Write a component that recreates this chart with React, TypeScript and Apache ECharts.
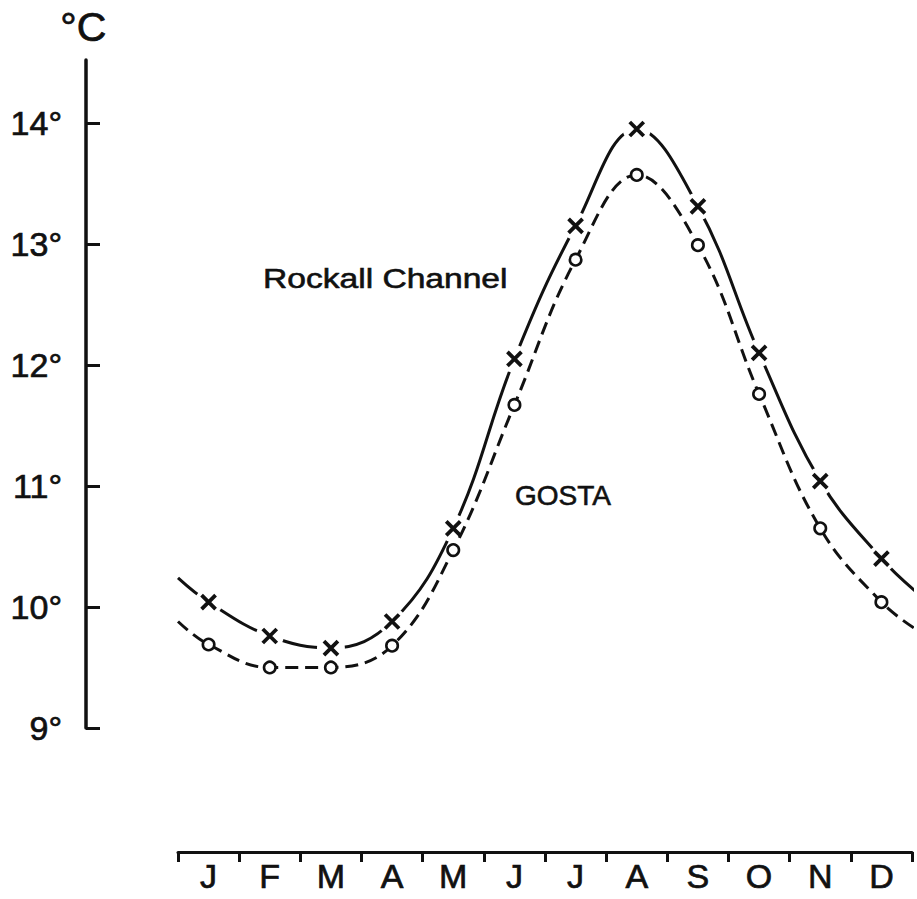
import React, { useEffect, useRef } from 'react';
import * as echarts from 'echarts';

const monthNames = ['Jan', 'Feb', 'Mar', 'Apr', 'May', 'Jun', 'Jul', 'Aug', 'Sep', 'Oct', 'Nov', 'Dec'];
const monthLabels = ['J', 'F', 'M', 'A', 'M', 'J', 'J', 'A', 'S', 'O', 'N', 'D'];
const rockall = [10.04, 9.76, 9.66, 9.88, 10.65, 12.05, 13.15, 13.95, 13.31, 12.1, 11.04, 10.4];
const gosta = [9.69, 9.5, 9.5, 9.68, 10.47, 11.67, 12.87, 13.57, 12.99, 11.76, 10.65, 10.04];
// curve values at the left (start of Jan) and right (end of Dec) edges
const rockallEnds = [10.24, 10.12];
const gostaEnds = [9.88, 9.81];
const yTicks = [9, 10, 11, 12, 13, 14];
const curveStart = 0;
const curveEnd = 12.08;

const FONT = '"Liberation Sans", Arial, Helvetica, sans-serif';
const INK = '#111';
const bolden = { textBorderColor: INK, textBorderWidth: 0.7 };

export default function App() {
  const ref = useRef<HTMLDivElement>(null);
  useEffect(() => {
    if (!ref.current) return;
    const chart = echarts.init(ref.current, undefined, { renderer: 'svg' });
    const pts = (vals: number[]) => vals.map((v, i) => [i + 0.5, v]);
    const curve = (vals: number[], ends: number[]) => [
      [curveStart, ends[0]],
      ...pts(vals),
      [curveEnd, ends[1]],
    ];
    chart.setOption({
      animation: false,
      backgroundColor: '#fff',
      grid: { left: 178, right: 5, top: 60, bottom: 171 },
      xAxis: [
        {
          type: 'category',
          data: monthNames,
          position: 'bottom',
          offset: 124,
          boundaryGap: true,
          axisLine: { show: true, onZero: false, lineStyle: { color: INK, width: 3 } },
          axisTick: { show: true, length: 10, alignWithLabel: false, interval: 0, lineStyle: { color: INK, width: 3 } },
          axisLabel: {
            interval: 0,
            margin: 7,
            color: INK,
            fontSize: 34,
            fontFamily: FONT,
            ...bolden,
            formatter: (_v: string, i: number) => monthLabels[i],
          },
          splitLine: { show: false },
        },
        { type: 'value', min: 0, max: 12, show: false },
      ],
      yAxis: {
        type: 'value',
        min: 9,
        max: 14.52,
        position: 'left',
        offset: 92,
        axisLine: { show: true, onZero: false, lineStyle: { color: INK, width: 3.5 } },
        axisTick: { show: true, inside: true, length: 14, customValues: yTicks, lineStyle: { color: INK, width: 3 } },
        axisLabel: {
          customValues: yTicks,
          margin: 24,
          color: INK,
          fontSize: 34,
          fontFamily: FONT,
          ...bolden,
          formatter: (v: number) => (Number.isInteger(v) ? v + '°' : ''),
        },
        splitLine: { show: false },
      },
      graphic: [
        { type: 'text', left: 60, top: 6, style: { text: '°C', font: `41px ${FONT}`, fill: INK, stroke: INK, lineWidth: 0.7 } },
        {
          type: 'text', x: 263, y: 278, scaleX: 1.2,
          style: { text: 'Rockall Channel', font: `28px ${FONT}`, fill: INK, stroke: INK, lineWidth: 0.6, verticalAlign: 'middle' },
        },
        {
          type: 'text', x: 515, y: 495,
          style: { text: 'GOSTA', font: `28px ${FONT}`, fill: INK, stroke: INK, lineWidth: 0.6, verticalAlign: 'middle' },
        },
      ],
      series: [
        {
          type: 'line', xAxisIndex: 1, data: curve(rockall, rockallEnds), smooth: 0.4, symbol: 'none',
          clip: false, z: 2, lineStyle: { color: INK, width: 3 },
        },
        {
          type: 'scatter', xAxisIndex: 1, data: pts(rockall), symbol: 'circle', symbolSize: 28,
          itemStyle: { color: '#fff', opacity: 1 }, silent: true, z: 3,
        },
        {
          type: 'line', xAxisIndex: 1, data: curve(gosta, gostaEnds), smooth: 0.4, symbol: 'none',
          clip: false, z: 4, lineStyle: { color: INK, width: 3, type: [13, 7] },
        },
        {
          type: 'scatter', xAxisIndex: 1, data: pts(rockall), symbol: 'path://M0,0L10,10M10,0L0,10',
          symbolSize: 14, z: 5, itemStyle: { color: 'none', borderColor: INK, borderWidth: 3.8, opacity: 1 },
        },
        {
          type: 'scatter', xAxisIndex: 1, data: pts(gosta), symbol: 'circle', symbolSize: 11.5, z: 5,
          itemStyle: { color: '#fff', borderColor: INK, borderWidth: 2.6, opacity: 1 },
        },
      ],
    });
    return () => chart.dispose();
  }, []);
  return <div ref={ref} style={{ position: 'fixed', left: 0, top: 0, width: 917, height: 899 }} />;
}
